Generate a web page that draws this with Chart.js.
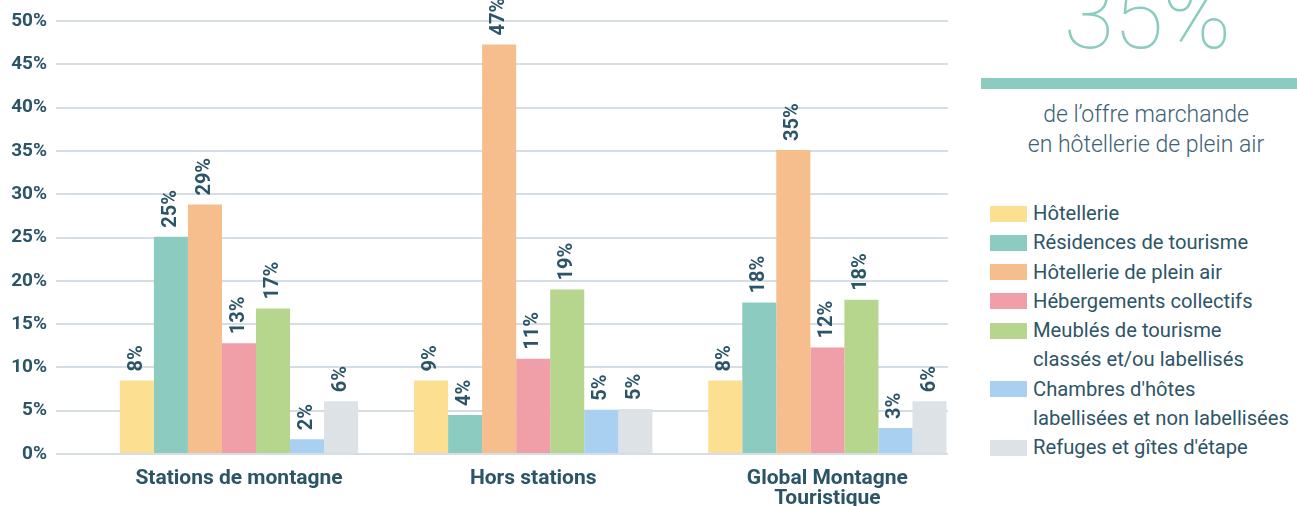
<!DOCTYPE html>
<html lang="fr">
<head>
<meta charset="utf-8">
<script src="https://cdn.jsdelivr.net/npm/chart.js@4/dist/chart.umd.min.js"></script>
<style>
  html, body { margin: 0; padding: 0; background: #fff; }
  body { width: 1297px; height: 506px; position: relative; overflow: hidden; font-family: Roboto, "Noto Sans", sans-serif; }
  #wrap { position: absolute; left: 0; top: 0; width: 960px; height: 506px; }
  #big { position: absolute; left: 989px; width: 316px; top: -29px; text-align: center; font-size: 92px; font-weight: 100; color: #8ccbbf; line-height: 1; letter-spacing: -1px; }
  #rule { position: absolute; left: 981px; top: 78px; width: 316px; height: 11px; background: #8ccbbf; }
  #sub { position: absolute; left: 981px; width: 330px; top: 100px; text-align: center; font-size: 23px; font-weight: 300; color: #3d6275; line-height: 30px; white-space: nowrap; }
  #legend { position: absolute; left: 990px; top: 199px; font-size: 20.2px; color: #2e5566; line-height: 29.3px; white-space: nowrap; }
  .row { display: flex; align-items: flex-start; }
  .sw { width: 37px; height: 16px; margin-top: 6.5px; margin-right: 6px; flex: none; }
</style>
</head>
<body>
<div id="wrap"><canvas id="chart"></canvas></div>
<div id="big">35%</div>
<div id="rule"></div>
<div id="sub">de l’offre marchande<br>en hôtellerie de plein air</div>
<div id="legend"></div>
<script>
// groups on the x axis
const categories = ['Stations de montagne', 'Hors stations', ['Global Montagne', 'Touristique']];

// accommodation types (legend labels, some on two lines)
const seriesNames = [
  ['Hôtellerie'],
  ['Résidences de tourisme'],
  ['Hôtellerie de plein air'],
  ['Hébergements collectifs'],
  ['Meublés de tourisme', 'classés et/ou labellisés'],
  ['Chambres d\'hôtes', 'labellisées et non labellisées'],
  ['Refuges et gîtes d\'étape']
];
const seriesColors = ['#fcdf90', '#8ccbbf', '#f5be8c', '#f09fa8', '#b6d58d', '#a9d0f0', '#dde2e6'];

// shares (%) per group, one array per series
const hotellerie   = [8.5, 8.5, 8.5];
const residences   = [25.1, 4.5, 17.5];
const pleinAir     = [28.8, 47.3, 35.1];
const collectifs   = [12.8, 11.0, 12.3];
const meubles      = [16.8, 19.0, 17.8];
const chambres     = [1.7, 5.1, 3.0];
const refuges      = [6.1, 5.2, 6.1];
const seriesValues = [hotellerie, residences, pleinAir, collectifs, meubles, chambres, refuges];

// printed labels above the bars
const barLabels = [
  ['8%', '9%', '8%'],
  ['25%', '4%', '18%'],
  ['29%', '47%', '35%'],
  ['13%', '11%', '12%'],
  ['17%', '19%', '18%'],
  ['2%', '5%', '3%'],
  ['6%', '5%', '6%']
];

const yTicks = [0, 5, 10, 15, 20, 25, 30, 35, 40, 45, 50];

const textColor = '#2b5566';

// html legend
document.getElementById('legend').innerHTML = seriesNames.map((lines, i) => `
  <div class="row"><div class="sw" style="background:${seriesColors[i]}"></div><div>${lines.join('<br>')}</div></div>
`).join('');

// rotated value labels above each bar
const valueLabels = {
  id: 'valueLabels',
  afterDatasetsDraw(chart) {
    const ctx = chart.ctx;
    ctx.save();
    ctx.fillStyle = textColor;
    ctx.font = 'bold 20px Roboto';
    ctx.textAlign = 'left';
    ctx.textBaseline = 'middle';
    chart.data.datasets.forEach((ds, di) => {
      chart.getDatasetMeta(di).data.forEach((bar, i) => {
        ctx.save();
        ctx.translate(bar.x, bar.y - 9);
        ctx.rotate(-Math.PI / 2);
        ctx.fillText(barLabels[di][i], 0, 0);
        ctx.restore();
      });
    });
    ctx.restore();
  }
};

const canvas = document.getElementById('chart');
canvas.width = 960;
canvas.height = 506;

new Chart(canvas, {
  type: 'bar',
  data: {
    datasets: seriesValues.map((vals, i) => ({
      label: seriesNames[i].join(' '),
      data: vals.map((v, j) => ({ x: j, y: v })),
      backgroundColor: seriesColors[i],
      borderWidth: 0,
      barPercentage: 1,
      categoryPercentage: 0.81
    }))
  },
  options: {
    responsive: false,
    animation: false,
    layout: { padding: { top: 21, right: 12, left: 0, bottom: 0 } },
    plugins: { legend: { display: false }, tooltip: { enabled: false } },
    scales: {
      x: {
        type: 'linear',
        offset: false,
        min: -0.622,
        max: 2.41,
        afterBuildTicks: (scale) => { scale.ticks = categories.map((c, i) => ({ value: i })); },
        afterFit: (scale) => { scale.height = 52; },
        grid: { display: false, drawTicks: false },
        border: { display: false },
        ticks: {
          color: textColor,
          font: { family: 'Roboto', size: 21, weight: 'bold', lineHeight: 0.95 },
          padding: 15,
          maxRotation: 0,
          autoSkip: false,
          callback: (v) => categories[v]
        }
      },
      y: {
        min: 0,
        max: 50,
        afterBuildTicks: (scale) => { scale.ticks = yTicks.map(v => ({ value: v })); },
        afterFit: (scale) => { scale.width = 56; },
        grid: { color: '#d5dde5', lineWidth: 2, drawTicks: false },
        border: { display: false },
        ticks: {
          color: textColor,
          font: { family: 'Roboto', size: 19, weight: 'bold' },
          padding: 9,
          callback: (v) => v + '%'
        }
      }
    }
  },
  plugins: [valueLabels]
});
</script>
</body>
</html>
